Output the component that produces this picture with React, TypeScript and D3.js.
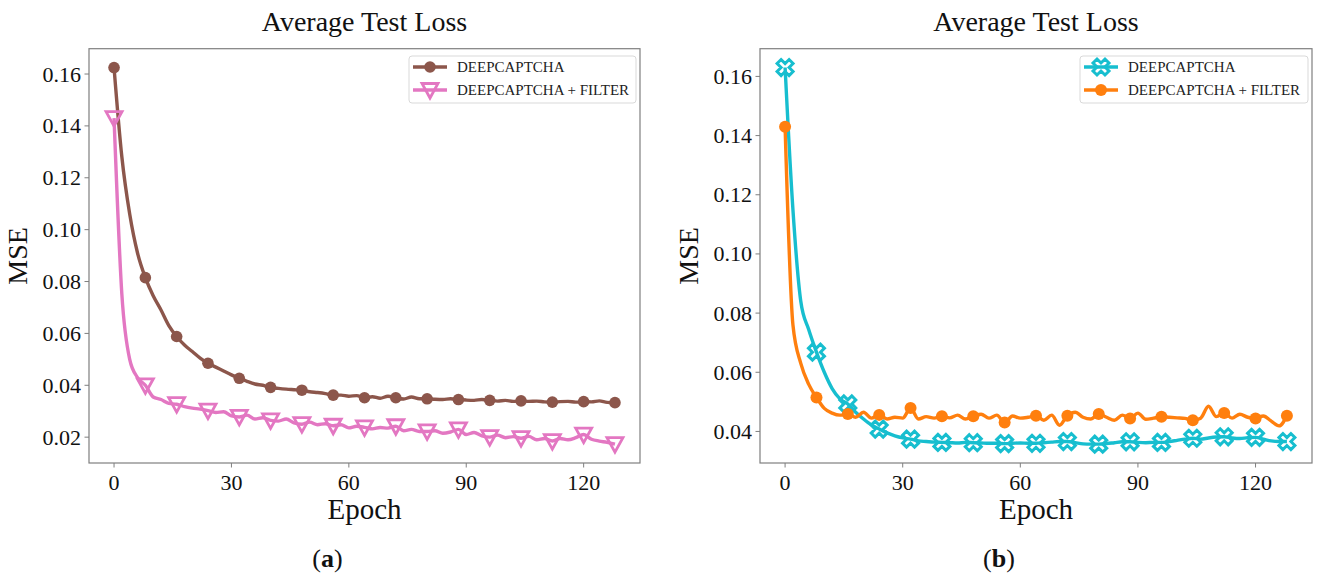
import React from 'react';
import * as d3 from 'd3';

// epochs sampled every 2, markers every 8
const epochs = d3.range(0, 129, 2);
const markerEvery = 4;

const deepA = [
  0.1625, 0.128, 0.106, 0.091, 0.0815, 0.0745, 0.069, 0.063, 0.0588, 0.0555,
  0.053, 0.0505, 0.0485, 0.047, 0.0455, 0.044, 0.0427, 0.0415, 0.0405, 0.04,
  0.0392, 0.0388, 0.0385, 0.0383, 0.0381, 0.0375, 0.0372, 0.0368, 0.0362, 0.0362,
  0.0358, 0.036, 0.0352, 0.0356, 0.035, 0.0358, 0.0352, 0.0347, 0.0355, 0.0348,
  0.0348, 0.0346, 0.0345, 0.0348, 0.0345, 0.0343, 0.0342, 0.0345, 0.0342, 0.0339,
  0.0342, 0.0338, 0.034, 0.0338, 0.0339, 0.0336, 0.0335, 0.0337, 0.0338, 0.0335,
  0.0337, 0.0336, 0.034, 0.0334, 0.0333,
];

const filterA = [
  0.143, 0.075, 0.05, 0.043, 0.04, 0.0355, 0.0345, 0.033, 0.0327, 0.0318,
  0.0312, 0.0308, 0.0302, 0.0295, 0.0298, 0.0282, 0.0278, 0.0285, 0.027, 0.0275,
  0.0265, 0.0262, 0.027, 0.0255, 0.025, 0.0258, 0.0248, 0.0252, 0.0244, 0.0248,
  0.0236, 0.0242, 0.0238, 0.0232, 0.0237, 0.0235, 0.0242, 0.0225, 0.023, 0.0222,
  0.0222, 0.0225, 0.0215, 0.022, 0.023, 0.021, 0.0218, 0.0205, 0.02, 0.0208,
  0.0198, 0.0202, 0.0196, 0.0203, 0.019, 0.0195, 0.0185, 0.0195, 0.019, 0.0198,
  0.021, 0.0192, 0.0185, 0.018, 0.0173,
];

const deepB = [
  0.163, 0.115, 0.084, 0.0745, 0.0668, 0.06, 0.0545, 0.051, 0.0493, 0.0465,
  0.0442, 0.0422, 0.0408, 0.0395, 0.0385, 0.0378, 0.0374, 0.0368, 0.0366, 0.0364,
  0.0363, 0.0362, 0.0361, 0.0363, 0.0362, 0.0361, 0.036, 0.036, 0.0359, 0.036,
  0.0361, 0.036, 0.036, 0.0362, 0.0364, 0.0366, 0.0366, 0.0362, 0.0358, 0.0357,
  0.0357, 0.0359, 0.0362, 0.0365, 0.0365, 0.0363, 0.0362, 0.0363, 0.0363, 0.0366,
  0.037, 0.0374, 0.0377, 0.0374, 0.0378, 0.0381, 0.0382, 0.0378, 0.0376, 0.0379,
  0.038, 0.0374, 0.0368, 0.0366, 0.0366,
];

const filterB = [
  0.143, 0.076, 0.063, 0.056, 0.0515, 0.0478, 0.0462, 0.0455, 0.0459, 0.0448,
  0.0465, 0.0445, 0.0456, 0.0442, 0.0448, 0.0445, 0.0479, 0.0442, 0.045, 0.0445,
  0.0451, 0.0446, 0.0455, 0.0442, 0.0451, 0.0458, 0.0445, 0.0455, 0.043, 0.0452,
  0.0445, 0.0448, 0.0453, 0.0438, 0.0455, 0.0421, 0.0453, 0.0465, 0.0448, 0.0442,
  0.0459, 0.0448, 0.0438, 0.0455, 0.0444, 0.0462, 0.0441, 0.0445, 0.045, 0.0448,
  0.0446, 0.0444, 0.0438, 0.0445, 0.0485, 0.045, 0.0462, 0.0445, 0.0458, 0.0448,
  0.0444, 0.0452, 0.0435, 0.0419, 0.0453,
];

const xTicks = [0, 30, 60, 90, 120];
const yTicksA = [0.02, 0.04, 0.06, 0.08, 0.1, 0.12, 0.14, 0.16];
const yTicksB = [0.04, 0.06, 0.08, 0.1, 0.12, 0.14, 0.16];
const labels = ['DEEPCAPTCHA', 'DEEPCAPTCHA + FILTER'];

const FONT = '"Liberation Serif", "DejaVu Serif", serif';
const BROWN = '#8c564b';
const PINK = '#e377c2';
const CYAN = '#17becf';
const ORANGE = '#ff7f0e';

type MarkerKind = 'circle' | 'tri' | 'x';

const xPath = (() => {
  const pts = [
    [0.25, 0], [0.5, 0.25], [0.75, 0], [1, 0.25], [0.75, 0.5], [1, 0.75],
    [0.75, 1], [0.5, 0.75], [0.25, 1], [0, 0.75], [0.25, 0.5], [0, 0.25],
  ];
  const s = 16;
  return 'M' + pts.map(([a, b]) => `${((a - 0.5) * s).toFixed(2)},${((b - 0.5) * s).toFixed(2)}`).join('L') + 'Z';
})();

const Marker = ({ kind, color, x, y, r }: { kind: MarkerKind; color: string; x: number; y: number; r?: number }) => {
  if (kind === 'circle')
    return <circle cx={x} cy={y} r={r ?? 5.5} fill={color} />;
  if (kind === 'tri')
    return (
      <path
        d="M-8,-6.5L8,-6.5L0,8Z"
        transform={`translate(${x},${y})`}
        fill="none"
        stroke={color}
        strokeWidth={2.8}
        strokeLinejoin="miter"
      />
    );
  return (
    <path d={xPath} transform={`translate(${x},${y})`} fill="none" stroke={color} strokeWidth={3} />
  );
};

interface SeriesDef {
  values: number[];
  color: string;
  kind: MarkerKind;
  r?: number;
}

interface PanelProps {
  left: number;
  right: number;
  series: SeriesDef[];
  yTicks: number[];
  tag: string;
  legendX: number;
  legendW: number;
}

const Panel = ({ left, right, series, yTicks, tag, legendX, legendW }: PanelProps) => {
  const top = 48.7;
  const bottom = 463;
  const x = d3.scaleLinear().domain([-6.4, 134.4]).range([left, right]);
  const all = series.flatMap((s) => s.values);
  const lo = d3.min(all)!;
  const hi = d3.max(all)!;
  const pad = (hi - lo) * 0.05;
  const y = d3.scaleLinear().domain([lo - pad, hi + pad]).range([bottom, top]);
  const line = d3
    .line<number>()
    .x((_, i) => x(epochs[i]))
    .y((d) => y(d))
    .curve(d3.curveMonotoneX);
  const cx = (left + right) / 2;

  return (
    <g fontFamily={FONT}>
      <text x={cx} y={31} textAnchor="middle" fontSize={28} fill="#111">
        Average Test Loss
      </text>

      {series.map((s, k) => (
        <g key={k}>
          <path d={line(s.values) ?? ''} fill="none" stroke={s.color} strokeWidth={3.4} strokeLinejoin="round" />
          {s.values.map((v, i) =>
            i % markerEvery === 0 ? (
              <Marker key={i} kind={s.kind} color={s.color} x={x(epochs[i])} y={y(v)} r={s.r} />
            ) : null
          )}
        </g>
      ))}

      <rect x={left} y={top} width={right - left} height={bottom - top} fill="none" stroke="#7f7f7f" strokeWidth={1.2} />

      {xTicks.map((t) => (
        <g key={t}>
          <line x1={x(t)} x2={x(t)} y1={bottom} y2={bottom + 4.5} stroke="#7f7f7f" strokeWidth={1} />
          <text x={x(t)} y={bottom + 27} textAnchor="middle" fontSize={22} fill="#111">
            {t}
          </text>
        </g>
      ))}
      {yTicks.map((t) => (
        <g key={t}>
          <line x1={left - 4.5} x2={left} y1={y(t)} y2={y(t)} stroke="#7f7f7f" strokeWidth={1} />
          <text x={left - 8} y={y(t) + 7.5} textAnchor="end" fontSize={22} fill="#111">
            {t.toFixed(2)}
          </text>
        </g>
      ))}

      <text x={cx} y={519} textAnchor="middle" fontSize={29} fill="#111">
        Epoch
      </text>
      <text transform={`translate(${left - 62},${(top + bottom) / 2}) rotate(-90)`} textAnchor="middle" fontSize={28} fill="#111">
        MSE
      </text>

      <text x={cx - 37} y={567} textAnchor="middle" fontSize={26} fill="#111">
        (<tspan fontWeight="bold">{tag}</tspan>)
      </text>

      <g transform={`translate(${legendX},56)`}>
        <rect x={0} y={0} width={legendW} height={47} rx={3} fill="white" fillOpacity={0.8} stroke="#d9d9d9" />
        {series.map((s, k) => (
          <g key={k} transform={`translate(0,${11 + k * 23})`}>
            <line x1={4} x2={38} y1={0} y2={0} stroke={s.color} strokeWidth={3.4} />
            <Marker kind={s.kind} color={s.color} x={21} y={0} r={s.r} />
            <text x={48} y={5} fontSize={15} fill="#222">
              {labels[k]}
            </text>
          </g>
        ))}
      </g>
    </g>
  );
};

export default function App() {
  return (
    <svg width={1320} height={575} style={{ position: 'absolute', left: 0, top: 0, background: 'white' }}>
      <Panel
        left={89}
        right={640}
        series={[
          { values: deepA, color: BROWN, kind: 'circle', r: 5.8 },
          { values: filterA, color: PINK, kind: 'tri' },
        ]}
        yTicks={yTicksA}
        tag="a"
        legendX={409}
        legendW={227}
      />
      <Panel
        left={760}
        right={1312}
        series={[
          { values: deepB, color: CYAN, kind: 'x' },
          { values: filterB, color: ORANGE, kind: 'circle', r: 6 },
        ]}
        yTicks={yTicksB}
        tag="b"
        legendX={1080}
        legendW={228}
      />
    </svg>
  );
}
